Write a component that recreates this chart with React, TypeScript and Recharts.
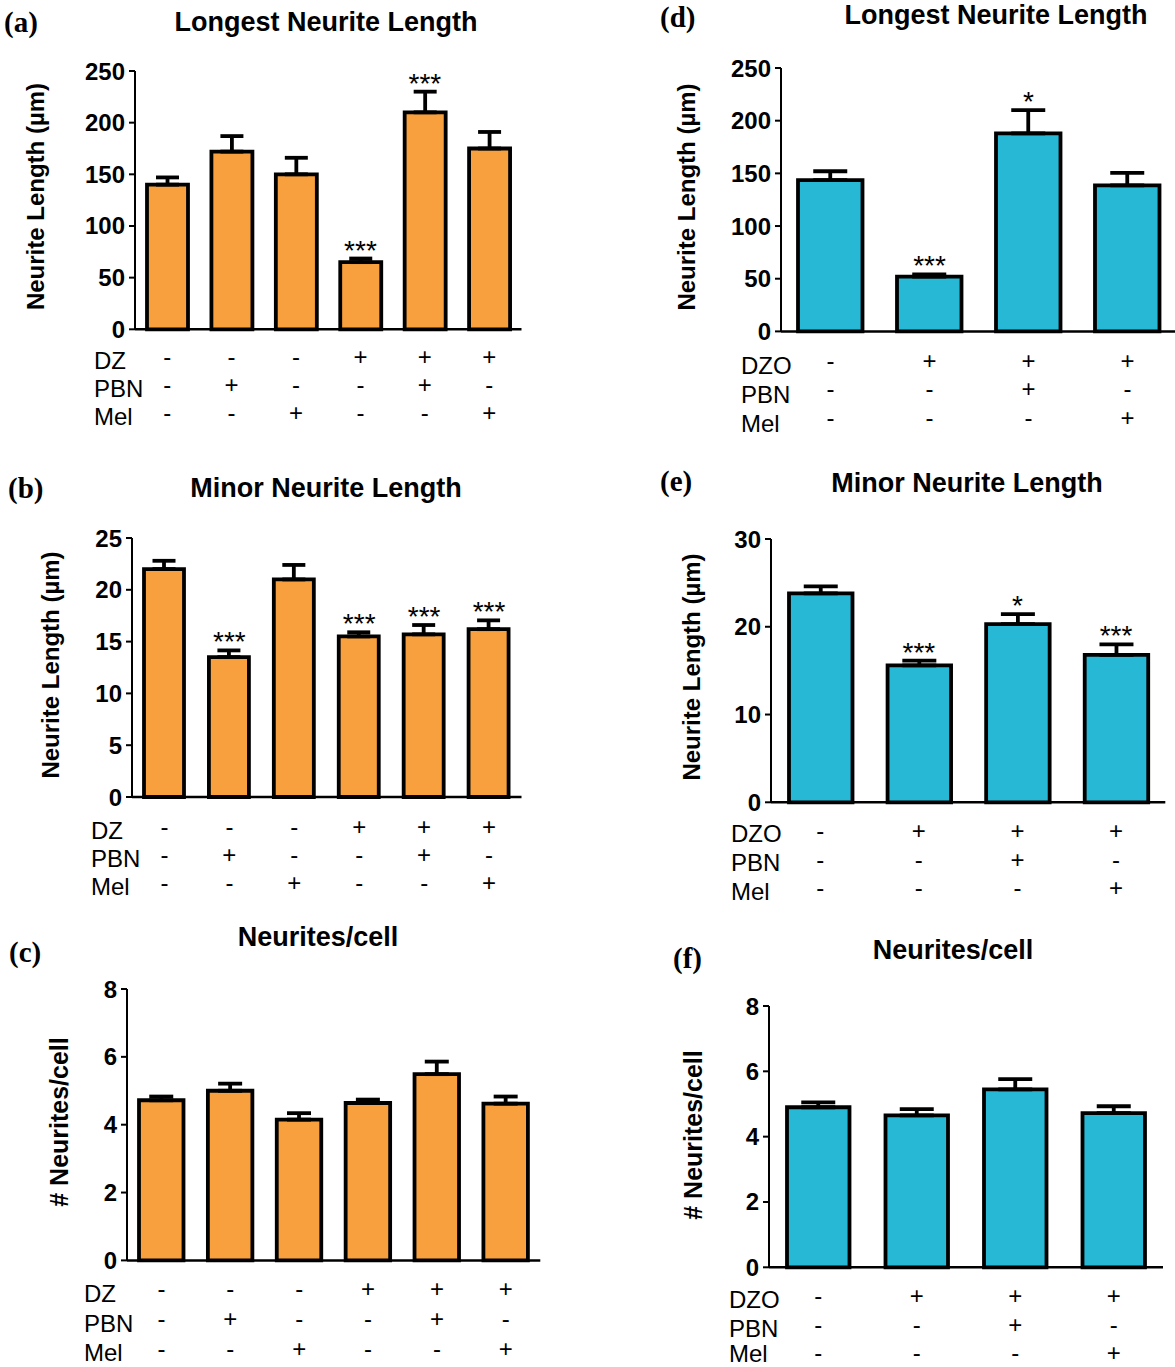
import React from 'react';
import { ComposedChart, Bar, Line, XAxis, YAxis, ErrorBar, LabelList } from 'recharts';

const FONT = '"Liberation Sans", Arial, Helvetica, sans-serif';
const SERIF = '"Liberation Serif", "Times New Roman", serif';
const ORANGE = '#F9A03E';
const CYAN = '#26B8D5';

// ---------- data ----------
const groups6 = ['G1', 'G2', 'G3', 'G4', 'G5', 'G6'];
const groups4 = ['G1', 'G2', 'G3', 'G4'];

const dzSigns = ['-', '-', '-', '+', '+', '+'];
const pbnSigns6 = ['-', '+', '-', '-', '+', '-'];
const melSigns6 = ['-', '-', '+', '-', '-', '+'];

const dzoSigns = ['-', '+', '+', '+'];
const pbnSigns4 = ['-', '-', '+', '-'];
const melSigns4 = ['-', '-', '-', '+'];

const longestDZ = [140, 172, 150, 65, 210, 175];
const longestDZErr = [7, 15, 16, 3.5, 20, 16];
const longestDZSig = ['', '', '', '***', '***', ''];

const minorDZ = [22, 13.5, 21, 15.5, 15.7, 16.2];
const minorDZErr = [0.8, 0.65, 1.4, 0.4, 0.9, 0.85];
const minorDZSig = ['', '***', '', '***', '***', '***'];

const cellDZ = [4.72, 5.0, 4.15, 4.64, 5.49, 4.62];
const cellDZErr = [0.11, 0.21, 0.19, 0.1, 0.37, 0.21];
const cellDZSig = ['', '', '', '', '', ''];

const longestDZO = [143.5, 52, 188, 138.5];
const longestDZOErr = [8.5, 2.2, 22, 12];
const longestDZOSig = ['', '***', '*', ''];

const minorDZO = [23.8, 15.6, 20.3, 16.8];
const minorDZOErr = [0.8, 0.55, 1.15, 1.2];
const minorDZOSig = ['', '***', '*', '***'];

const cellDZO = [4.9, 4.65, 5.45, 4.72];
const cellDZOErr = [0.15, 0.19, 0.31, 0.21];
const cellDZOSig = ['', '', '', ''];

const ticks250 = [0, 50, 100, 150, 200, 250];
const ticks25 = [0, 5, 10, 15, 20, 25];
const ticks30 = [0, 10, 20, 30];
const ticks8 = [0, 2, 4, 6, 8];

const build = (g: string[], v: number[], e: number[], s: string[]) =>
  g.map((name, i) => ({ group: name, value: v[i], err: [0, e[i]], top: v[i] + e[i], sig: s[i] }));

// ---------- panel ----------
type Row = { name: string; signs: string[]; signY: number; labelY: number };
type PanelProps = {
  data: any[];
  plot: { left: number; right: number; top: number; bottom: number };
  yMax: number;
  ticks: number[];
  color: string;
  barSize: number;
  cap: number;
  rows: Row[];
  labelX: number;
  title: string;
  titleX: number;
  titleY: number;
  letter: string;
  letterX: number;
  letterY: number;
  yLabel: string;
  yLabelX: number;
  yLabelY: number;
  yLabelSize: number;
};

const Y_W = 70;
const M_TOP = 16;
const M_RIGHT = 6;
const X_H = 110;

function Panel(p: PanelProps) {
  const chartLeft = p.plot.left - Y_W;
  const chartTop = p.plot.top - M_TOP;
  const width = p.plot.right - p.plot.left + Y_W + M_RIGHT;
  const height = p.plot.bottom - p.plot.top + M_TOP + X_H;

  const signTick = (props: any) => {
    const { x, index } = props;
    return (
      <g>
        {p.rows.map((r, k) => (
          <text
            key={k}
            x={x}
            y={r.signY - chartTop}
            textAnchor="middle"
            dominantBaseline="central"
            fontSize={24}
            fontFamily={FONT}
            fill="#000"
          >
            {r.signs[index]}
          </text>
        ))}
      </g>
    );
  };

  const starLabel = (props: any) => {
    const { x, y, value } = props;
    if (!value) return null;
    return (
      <text x={x} y={y + 1} textAnchor="middle" fontSize={28} fontFamily={FONT} fill="#000">
        {value}
      </text>
    );
  };

  return (
    <>
      <div style={{ position: 'absolute', left: chartLeft, top: chartTop, width, height }}>
        <ComposedChart
          width={width}
          height={height}
          data={p.data}
          margin={{ top: M_TOP, right: M_RIGHT, bottom: 0, left: 0 }}
          style={{ overflow: 'visible' }}
        >
          <XAxis
            dataKey="group"
            tickLine={false}
            axisLine={{ stroke: '#000', strokeWidth: 2.5 }}
            height={X_H}
            interval={0}
            tick={signTick}
          />
          <YAxis
            width={Y_W}
            domain={[0, p.yMax]}
            ticks={p.ticks}
            interval={0}
            tickSize={6}
            tickMargin={4}
            axisLine={{ stroke: '#000', strokeWidth: 2 }}
            tickLine={{ stroke: '#000', strokeWidth: 2 }}
            tick={{ fontSize: 24, fontWeight: 'bold', fill: '#000', fontFamily: FONT }}
          />
          <Bar
            dataKey="value"
            fill={p.color}
            stroke="#000"
            strokeWidth={3.8}
            barSize={p.barSize}
            isAnimationActive={false}
          >
            <ErrorBar dataKey="err" direction="y" width={p.cap} stroke="#000" strokeWidth={3.8} />
          </Bar>
          <Line
            dataKey="top"
            stroke="none"
            dot={false}
            activeDot={false}
            isAnimationActive={false}
          >
            <LabelList dataKey="sig" content={starLabel} />
          </Line>
        </ComposedChart>
      </div>
      <svg
        width={1175}
        height={1367}
        style={{ position: 'absolute', left: 0, top: 0, pointerEvents: 'none', overflow: 'visible' }}
      >
        <text x={p.titleX} y={p.titleY} textAnchor="middle" dominantBaseline="central" fontSize={27} fontWeight="bold" fontFamily={FONT} fill="#000">
          {p.title}
        </text>
        <text x={p.letterX} y={p.letterY} dominantBaseline="central" fontSize={29} fontWeight="bold" fontFamily={SERIF} fill="#000">
          {p.letter}
        </text>
        <text
          x={p.yLabelX}
          y={p.yLabelY}
          textAnchor="middle"
          dominantBaseline="central"
          fontSize={p.yLabelSize}
          fontWeight="bold"
          fontFamily={FONT}
          fill="#000"
          transform={`rotate(-90 ${p.yLabelX} ${p.yLabelY})`}
        >
          {p.yLabel}
        </text>
        {p.rows.map((r, k) => (
          <text key={k} x={p.labelX} y={r.labelY} dominantBaseline="central" fontSize={24} fontFamily={FONT} fill="#000">
            {r.name}
          </text>
        ))}
      </svg>
    </>
  );
}

export default function App() {
  return (
    <div style={{ position: 'absolute', left: 0, top: 0, width: 1175, height: 1367, overflow: 'hidden', background: '#fff' }}>
      <Panel
        data={build(groups6, longestDZ, longestDZErr, longestDZSig)}
        plot={{ left: 134.5, right: 521, top: 71, bottom: 329.3 }}
        yMax={250}
        ticks={ticks250}
        color={ORANGE}
        barSize={41}
        cap={11.5}
        rows={[
          { name: 'DZ', signs: dzSigns, signY: 357, labelY: 360 },
          { name: 'PBN', signs: pbnSigns6, signY: 385, labelY: 388 },
          { name: 'Mel', signs: melSigns6, signY: 413, labelY: 416.5 },
        ]}
        labelX={94}
        title="Longest Neurite Length"
        titleX={326}
        titleY={21.5}
        letter="(a)"
        letterX={4}
        letterY={21.5}
        yLabel="Neurite Length (µm)"
        yLabelX={35}
        yLabelY={196.5}
        yLabelSize={24}
      />
      <Panel
        data={build(groups6, minorDZ, minorDZErr, minorDZSig)}
        plot={{ left: 131.5, right: 521, top: 538.3, bottom: 797.3 }}
        yMax={25}
        ticks={ticks25}
        color={ORANGE}
        barSize={40}
        cap={11.5}
        rows={[
          { name: 'DZ', signs: dzSigns, signY: 826.5, labelY: 830 },
          { name: 'PBN', signs: pbnSigns6, signY: 855, labelY: 858 },
          { name: 'Mel', signs: melSigns6, signY: 883, labelY: 886.5 },
        ]}
        labelX={91}
        title="Minor Neurite Length"
        titleX={326}
        titleY={488}
        letter="(b)"
        letterX={8}
        letterY={488}
        yLabel="Neurite Length (µm)"
        yLabelX={50}
        yLabelY={665}
        yLabelSize={24}
      />
      <Panel
        data={build(groups6, cellDZ, cellDZErr, cellDZSig)}
        plot={{ left: 126.7, right: 540, top: 989.3, bottom: 1260.7 }}
        yMax={8}
        ticks={ticks8}
        color={ORANGE}
        barSize={44.5}
        cap={12}
        rows={[
          { name: 'DZ', signs: dzSigns, signY: 1289, labelY: 1293 },
          { name: 'PBN', signs: pbnSigns6, signY: 1319, labelY: 1323 },
          { name: 'Mel', signs: melSigns6, signY: 1349, labelY: 1352 },
        ]}
        labelX={84}
        title="Neurites/cell"
        titleX={318}
        titleY={936.5}
        letter="(c)"
        letterX={9}
        letterY={952}
        yLabel="# Neurites/cell"
        yLabelX={59}
        yLabelY={1122}
        yLabelSize={25}
      />
      <Panel
        data={build(groups4, longestDZO, longestDZOErr, longestDZOSig)}
        plot={{ left: 781, right: 1177, top: 68.3, bottom: 331.7 }}
        yMax={250}
        ticks={ticks250}
        color={CYAN}
        barSize={64.5}
        cap={17}
        rows={[
          { name: 'DZO', signs: dzoSigns, signY: 360.5, labelY: 365 },
          { name: 'PBN', signs: pbnSigns4, signY: 389, labelY: 394.5 },
          { name: 'Mel', signs: melSigns4, signY: 418, labelY: 423 },
        ]}
        labelX={741}
        title="Longest Neurite Length"
        titleX={996}
        titleY={15}
        letter="(d)"
        letterX={660}
        letterY={17}
        yLabel="Neurite Length (µm)"
        yLabelX={686}
        yLabelY={197}
        yLabelSize={24}
      />
      <Panel
        data={build(groups4, minorDZO, minorDZOErr, minorDZOSig)}
        plot={{ left: 770.7, right: 1165, top: 539, bottom: 802.3 }}
        yMax={30}
        ticks={ticks30}
        color={CYAN}
        barSize={63.5}
        cap={17}
        rows={[
          { name: 'DZO', signs: dzoSigns, signY: 830.5, labelY: 833 },
          { name: 'PBN', signs: pbnSigns4, signY: 860, labelY: 862 },
          { name: 'Mel', signs: melSigns4, signY: 888, labelY: 891.5 },
        ]}
        labelX={731}
        title="Minor Neurite Length"
        titleX={967}
        titleY={483}
        letter="(e)"
        letterX={660}
        letterY={481}
        yLabel="Neurite Length (µm)"
        yLabelX={691}
        yLabelY={667}
        yLabelSize={24}
      />
      <Panel
        data={build(groups4, cellDZO, cellDZOErr, cellDZOSig)}
        plot={{ left: 769, right: 1163, top: 1006, bottom: 1267.3 }}
        yMax={8}
        ticks={ticks8}
        color={CYAN}
        barSize={62.5}
        cap={17}
        rows={[
          { name: 'DZO', signs: dzoSigns, signY: 1296, labelY: 1299 },
          { name: 'PBN', signs: pbnSigns4, signY: 1325, labelY: 1328 },
          { name: 'Mel', signs: melSigns4, signY: 1353, labelY: 1353 },
        ]}
        labelX={729}
        title="Neurites/cell"
        titleX={953}
        titleY={950}
        letter="(f)"
        letterX={673}
        letterY={958}
        yLabel="# Neurites/cell"
        yLabelX={693}
        yLabelY={1135}
        yLabelSize={25}
      />
    </div>
  );
}
